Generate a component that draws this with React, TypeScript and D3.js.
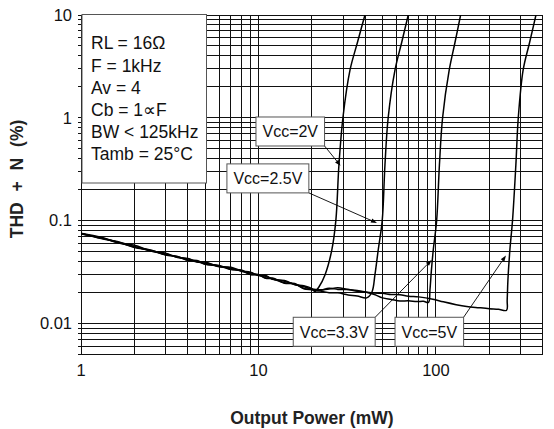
import React from "react";
import * as d3 from "d3";

// ---- data ----
const xTickLabels = [1, 10, 100];
const yTickLabels = [0.01, 0.1, 1, 10];

const basePower = [1, 1.3, 1.6, 2, 2.5, 3, 3.5, 4, 4.5, 5, 6, 7, 8, 9, 10, 11, 12, 14, 16, 18, 20];

const vcc2Power = [...basePower, 20.8, 21.9, 23.7, 25.9, 27.3, 28.4, 29.9, 32.8, 36.1, 39.8];
const vcc2Thd = [
  0.0755, 0.069, 0.0615, 0.0575, 0.0505, 0.0482, 0.0436, 0.0428, 0.0398, 0.0395, 0.0356, 0.0352, 0.0324,
  0.0315, 0.0292, 0.0293, 0.0268, 0.0262, 0.0238, 0.0232, 0.0218,
  0.0204, 0.0226, 0.0296, 0.0518, 0.101, 0.347, 0.995, 2.92, 5.4, 10,
];

const vcc25Power = [...basePower, 22, 25, 28, 32, 36, 40.7, 43.6, 45.3, 47.3, 49.8, 51.6, 53.8, 58.8, 64.1, 69.8];
const vcc25Thd = [
  0.0748, 0.0672, 0.0625, 0.0552, 0.0515, 0.0465, 0.0448, 0.0412, 0.0408, 0.0378, 0.0366, 0.0336, 0.033,
  0.03, 0.0299, 0.0276, 0.0276, 0.0248, 0.0244, 0.0219, 0.0214,
  0.0207, 0.0199, 0.0198, 0.0189, 0.0185, 0.0177, 0.0202, 0.0296, 0.052, 0.1, 0.347, 1.0, 2.92, 5.4, 10,
];

const vcc33Power = [
  ...basePower, 22, 25, 28, 32, 36, 40, 45, 50, 56, 62.7, 70, 78, 85, 90.8, 92.5, 94.3, 96.6, 100.9, 104.6,
  109, 118.8, 128, 137.7,
];
const vcc33Thd = [
  0.0742, 0.068, 0.061, 0.056, 0.0502, 0.0472, 0.044, 0.0424, 0.0395, 0.0386, 0.036, 0.0344, 0.0322,
  0.031, 0.0294, 0.0286, 0.027, 0.0257, 0.024, 0.0227, 0.0216,
  0.0212, 0.0216, 0.0222, 0.0214, 0.0209, 0.0202, 0.0191, 0.0177, 0.0171, 0.0165, 0.0166, 0.0163, 0.0164,
  0.016, 0.0211, 0.033, 0.052, 0.1, 0.347, 1.0, 2.92, 5.4, 10,
];

const vcc5Power = [
  ...basePower, 22, 25, 28, 32, 36, 40, 45, 50, 56, 62.7, 70, 80, 96, 110, 130, 149, 175, 200, 225, 250,
  252, 254.4, 261, 270, 282, 291, 310, 337, 366,
];
const vcc5Thd = [
  0.075, 0.0668, 0.062, 0.0548, 0.051, 0.0462, 0.0445, 0.041, 0.0403, 0.0375, 0.0362, 0.0334, 0.0326,
  0.0298, 0.0296, 0.0274, 0.0272, 0.0246, 0.0242, 0.0217, 0.0212,
  0.0208, 0.0219, 0.0214, 0.0213, 0.0205, 0.0202, 0.0197, 0.0196, 0.0191, 0.019, 0.0184, 0.0181, 0.0172,
  0.0162, 0.0152, 0.0146, 0.0142, 0.0139, 0.0137, 0.0134,
  0.0168, 0.0264, 0.052, 0.1, 0.347, 1.0, 2.92, 5.4, 10,
];

const seriesPowers = [vcc2Power, vcc25Power, vcc33Power, vcc5Power];
const seriesThds = [vcc2Thd, vcc25Thd, vcc33Thd, vcc5Thd];

const conditionLines = ["RL = 16\u03A9", "F = 1kHz", "Av = 4", "Cb = 1\u221DF", "BW < 125kHz", "Tamb = 25\u00B0C"];

const labelTexts = ["Vcc=2V", "Vcc=2.5V", "Vcc=3.3V", "Vcc=5V"];
const labelBoxPower = [9.68, 6.64, 15.7, 58.8];
const labelBoxThd = [1.018, 0.356, 0.01146, 0.01146];
const labelTipPower = [29.0, 46.5, 94.6, 248];
const labelTipThd = [0.342, 0.0948, 0.0414, 0.0458];

const FONT = "'Liberation Sans', Arial, Helvetica, sans-serif";

function measure(text: string, font: string) {
  const c = document.createElement("canvas");
  const ctx = c.getContext("2d");
  if (!ctx) return text.length * 8;
  ctx.font = font;
  return ctx.measureText(text).width;
}

export default function App() {
  const W = 554;
  const H = 429;
  const x = d3.scaleLog().domain([1, 400]).range([81, 542.8]);
  const y = d3.scaleLog().domain([0.005, 10]).range([354.3, 15]);
  const [x0, x1] = x.range();
  const [y0, y1] = y.range();

  const xGrid = x.ticks();
  const yGrid = y.ticks();

  const line = d3
    .line<[number, number]>()
    .x((d) => x(d[0]))
    .y((d) => y(d[1]))
    .curve(d3.curveCatmullRom.alpha(0.5));

  const boxH = 29;

  return (
    <svg
      width={W}
      height={H}
      style={{ position: "fixed", left: 0, top: 0, background: "#fff" }}
      fontFamily={FONT}
    >
      <defs>
        <clipPath id="plotClip">
          <rect x={x0} y={y1} width={x1 - x0} height={y0 - y1} />
        </clipPath>
      </defs>
      <rect x={0} y={0} width={W} height={H} fill="#fff" />
      {/* grid */}
      <g stroke="#111" strokeWidth={1} shapeRendering="crispEdges">
        {xGrid.map((v, i) => (
          <line key={"gx" + i} x1={x(v)} x2={x(v)} y1={y1} y2={y0} />
        ))}
        {yGrid.map((v, i) => (
          <line key={"gy" + i} x1={x0} x2={x1} y1={y(v)} y2={y(v)} />
        ))}
        {yGrid.map((v, i) => (
          <line key={"ty" + i} x1={x0 - 3} x2={x0} y1={y(v)} y2={y(v)} />
        ))}
        <rect x={x0} y={y1} width={x1 - x0} height={y0 - y1} fill="none" />
      </g>

      {/* curves */}
      <g clipPath="url(#plotClip)" fill="none" stroke="#000" strokeWidth={1.5} strokeLinejoin="round">
        {seriesPowers.map((ps, si) => (
          <path
            key={"s" + si}
            d={line(ps.map((p, i) => [p, seriesThds[si][i]] as [number, number])) || ""}
          />
        ))}
      </g>

      {/* conditions box */}
      <rect x={x0 + 1} y={y1 - 0.5} width={124.5} height={168.5} fill="#fff" stroke="#555" strokeWidth={1} />
      {conditionLines.map((t, i) => (
        <text key={"c" + i} x={91} y={49.3 + i * 22.2} fontSize={17.5} fill="#111">
          {t}
        </text>
      ))}

      {/* labels with arrows */}
      {labelTexts.map((t, i) => {
        const bx = x(labelBoxPower[i]);
        const by = y(labelBoxThd[i]);
        const tw = measure(t, `16px ${FONT}`);
        const bw = tw + 13;
        const tx = x(labelTipPower[i]);
        const ty = y(labelTipThd[i]);
        const sx = bx + bw;
        const sy = ty < by ? by : by + boxH;
        const ang = Math.atan2(ty - sy, tx - sx);
        const L = 6;
        const Wd = 2.2;
        const bxA = tx - L * Math.cos(ang);
        const byA = ty - L * Math.sin(ang);
        const p1 = [bxA + Wd * Math.sin(ang), byA - Wd * Math.cos(ang)];
        const p2 = [bxA - Wd * Math.sin(ang), byA + Wd * Math.cos(ang)];
        return (
          <g key={"l" + i}>
            <line x1={sx} y1={sy} x2={bxA} y2={byA} stroke="#000" strokeWidth={0.9} />
            <polygon points={`${tx},${ty} ${p1[0]},${p1[1]} ${p2[0]},${p2[1]}`} fill="#000" />
            <rect x={bx} y={by} width={bw} height={boxH} fill="#fff" stroke="#555" strokeWidth={1} />
            <text x={bx + bw / 2} y={by + boxH / 2 + 5.8} fontSize={16} textAnchor="middle" fill="#111">
              {t}
            </text>
          </g>
        );
      })}

      {/* tick labels */}
      {xTickLabels.map((v, i) => (
        <text key={"xl" + i} x={x(v)} y={375.8} fontSize={16.5} textAnchor="middle" fill="#111">
          {String(v)}
        </text>
      ))}
      {yTickLabels.map((v, i) => (
        <text key={"yl" + i} x={72} y={y(v) + 5.9} fontSize={16.5} textAnchor="end" fill="#111">
          {String(v)}
        </text>
      ))}

      {/* axis titles */}
      <text x={(x0 + x1) / 2} y={424} fontSize={17.5} fontWeight="bold" textAnchor="middle" fill="#222">
        Output Power (mW)
      </text>
      <text
        transform={`translate(23,179) rotate(-90)`}
        fontSize={17.5}
        fontWeight="bold"
        textAnchor="middle"
        fill="#222"
        style={{ wordSpacing: "6px" }}
      >
        THD + N (%)
      </text>
    </svg>
  );
}
